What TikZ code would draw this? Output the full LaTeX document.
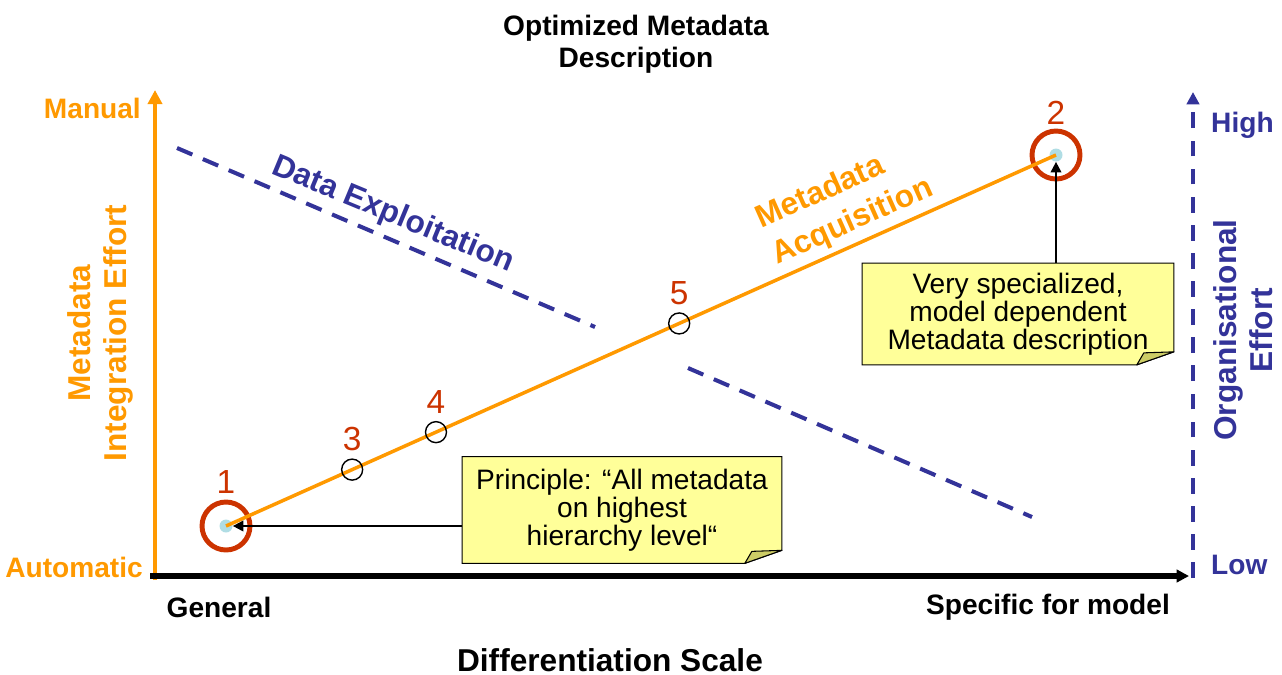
\documentclass[tikz,border=0pt]{standalone}
\usepackage{fontspec}
\setmainfont{Liberation Sans}
\usetikzlibrary{positioning,arrows.meta,calc,backgrounds}
\definecolor{acqorange}{HTML}{FF9900}
\definecolor{expnavy}{HTML}{333399}
\definecolor{numred}{HTML}{CC3300}
\definecolor{notefill}{HTML}{FFFF99}
\definecolor{notefold}{HTML}{CCCC66}
\definecolor{dotblue}{HTML}{B0DDE4}

\begin{document}
\begin{tikzpicture}[
    x=0.02cm, y=-0.02cm,
    >=Stealth,
    title/.style={font=\fontsize{16}{18}\selectfont\bfseries, align=center},
    scalelabel/.style={font=\fontsize{16}{18}\selectfont\bfseries},
    effortlabel/.style={font=\fontsize{18}{20.5}\selectfont\bfseries, align=center, rotate=90},
    linelabel/.style={font=\fontsize{18}{22.5}\selectfont\bfseries},
    ring/.style={circle, draw=numred, line width=2.8pt, minimum size=0.96cm, inner sep=0pt},
    dot/.style={circle, fill=dotblue, minimum size=0.26cm, inner sep=0pt},
    waypoint/.style={circle, draw, line width=0.8pt, minimum size=0.42cm, inner sep=0pt},
    numlabel/.style={text=numred, font=\fontsize{19}{19}\selectfont, inner sep=0pt},
    note/.style={minimum width=6.38cm, minimum height=2.12cm, align=center,
        font=\fontsize{16}{16}\selectfont, inner sep=2pt},
    notebox/.style={draw, fill=notefill, line width=0.6pt},
    notefoldbox/.style={draw, fill=notefold, line width=0.6pt, line join=round},
    pointer/.style={-{Triangle[length=6pt,width=6pt]}, line width=1.1pt},
    acq/.style={acqorange, line width=2pt},
    exploit/.style={expnavy, line width=2.3pt, dash pattern=on 9.5pt off 6.5pt},
]
\useasboundingbox (0,0) rectangle (1282,674);

% Title and scale
\node[title] (title) at (636,44) {Optimized Metadata\\Description};
\node[font=\fontsize{18}{20}\selectfont\bfseries] (scale) at (610,660) {Differentiation Scale};

% Axes
\coordinate (origin) at (155,580);
\coordinate (ytop) at (155,90);
\coordinate (xstart) at (150,576);
\coordinate (xend) at (1189,576);
\coordinate (rbottom) at (1193,578);
\coordinate (rtop) at (1193,92);
\draw[acqorange, line width=2.3pt, -{Triangle[length=8pt,width=8pt]}] (origin) -- (ytop);
\draw[line width=3.4pt, -{Triangle[length=7pt,width=7pt]}] (xstart) -- (xend);
\draw[expnavy, line width=2.3pt, dash pattern=on 9pt off 7pt,
    -{Triangle[length=7pt,width=7pt]}] (rbottom) -- (rtop);

\node[scalelabel, text=acqorange, anchor=east] (manual) at (147,108) {Manual};
\node[scalelabel, text=acqorange, anchor=east] (automatic) at (149,567) {Automatic};
\node[scalelabel, text=expnavy, anchor=west] (high) at (1205,125) {High};
\node[scalelabel, text=expnavy, anchor=west] (low) at (1205,565) {Low};
\node[scalelabel] (general) at (219,607) {General};
\node[scalelabel] (specific) at (1048,607) {Specific for model};
\node[effortlabel, text=acqorange] (integ) at (100,333) {Metadata\\Integration Effort};
\node[effortlabel, text=expnavy] (org) at (1243,330) {Organisational\\Effort};

% Data exploitation
\coordinate (ex1) at (177,148);
\coordinate (ex2) at (595,327);
\coordinate (ex3) at (688,368);
\coordinate (ex4) at (1032,517);
\draw[exploit] (ex1) -- (ex2);
\draw[exploit] (ex3) -- (ex4);
\node[linelabel, text=expnavy, rotate=-22.5] (exlabel) at (393,215) {Data Exploitation};

% Metadata acquisition
\node[ring] (p1) at (226,526) {};
\node[ring] (p2) at (1056,155) {};
\node[dot] (d1) at (226,526) {};
\node[dot] (d2) at (1056,155) {};
\draw[acq] (d1.center) -- (d2.center);
\node[waypoint] (p3) at ($(d1)!0.152!(d2)$) {};
\node[waypoint] (p4) at ($(d1)!0.253!(d2)$) {};
\node[waypoint] (p5) at ($(d1)!0.546!(d2)$) {};
\node[linelabel, text=acqorange, align=left, rotate=24, anchor=south west, inner sep=0pt]
    (acqlabel) at (780,271) {Metadata\\Acquisition};

\node[numlabel, above=3pt of p1] (l1) {1};
\node[numlabel, above=2pt of p2] (l2) {2};
\node[numlabel, above=4pt of p3] (l3) {3};
\node[numlabel, above=4pt of p4] (l4) {4};
\node[numlabel, above=4pt of p5] (l5) {5};

% Notes
\node[note] (n1) at (622,510) {Principle: “All metadata\\on highest\\hierarchy level“};
\node[note, minimum width=6.22cm, minimum height=2.02cm] (n2) at (1018,314)
    {Very specialized,\\model dependent\\Metadata description};
\begin{scope}[on background layer]
\foreach \n in {n1,n2}{
    \draw[notebox] (\n.north west) -- (\n.north east) -- ([yshift=0.26cm]\n.south east)
        -- ([xshift=-0.74cm]\n.south east) -- (\n.south west) -- cycle;
    \draw[notefoldbox] ([xshift=-0.74cm]\n.south east) -- ([xshift=-0.6cm,yshift=0.24cm]\n.south east)
        -- ([yshift=0.26cm]\n.south east) -- cycle;
}
\end{scope}
\draw[pointer] (n1.west |- d1) -- (d1);
\draw[pointer] (n2.north -| d2) -- (d2);

\end{tikzpicture}
\end{document}
